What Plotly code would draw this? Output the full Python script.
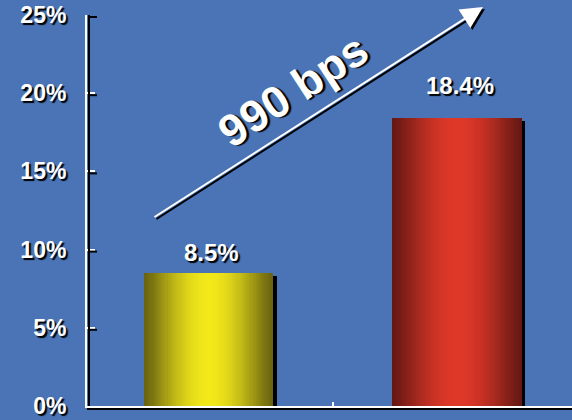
import math
import plotly.graph_objects as go

# Data
categories = ["Before", "After"]
values = [8.5, 18.4]
value_labels = ["8.5%", "18.4%"]
y_tick_vals = [0, 5, 10, 15, 20, 25]
y_tick_text = ["0%", "5%", "10%", "15%", "20%", "25%"]
change_label = "990 bps"

# Styling
BG = "#4a74b5"
FONT = "Liberation Sans, Arial, sans-serif"
SHADOW = "2px 2px 1px #000000"
bar_dark = [(104, 98, 16), (102, 24, 20)]
bar_bright = [(242, 232, 26), (222, 56, 40)]
label_lift = [5, 17]
BAR_W = 0.52
N_STRIPS = 60


def shade(dark, bright, t):
    f = math.sin(math.pi * t) ** 1.2
    r, g, b = (round(d + (br - d) * f) for d, br in zip(dark, bright))
    return f"rgb({r},{g},{b})"


fig = go.Figure()

# drop shadow behind each bar (shifted right and down)
fig.add_bar(
    x=categories, y=values, base=-0.2, width=BAR_W, offset=-BAR_W / 2 + 0.014,
    marker=dict(color="black", line=dict(width=0)), hoverinfo="skip",
    showlegend=False,
)

# bar bodies: vertical strips layered left to right for a cylinder-like gradient
for i in range(N_STRIPS):
    t0 = i / N_STRIPS
    tc = (i + 0.5) / N_STRIPS
    fig.add_bar(
        x=categories, y=values,
        width=BAR_W * (1 - t0), offset=-BAR_W / 2 + BAR_W * t0,
        marker=dict(color=[shade(d, b, tc) for d, b in zip(bar_dark, bar_bright)],
                    line=dict(width=0)),
        hoverinfo="skip", showlegend=False,
    )

# value labels above the bars
for cat, val, lab, lift in zip(categories, values, value_labels, label_lift):
    fig.add_annotation(
        x=cat, y=val, text=lab, showarrow=False, yanchor="bottom", yshift=lift,
        xshift=3, font=dict(family=FONT, size=24, color="white", weight="bold",
                            shadow=SHADOW),
    )

# rising arrow with its shadow, then the change label
for color, dx, dy in [("black", 2, -2), ("white", 0, 0)]:
    fig.add_annotation(
        xref="paper", yref="paper", x=0.8165, y=1.0205, ax=-330, ay=211,
        xshift=dx, yshift=dy, text="", showarrow=True, arrowhead=2,
        arrowsize=2.2, arrowwidth=2, arrowcolor=color,
    )
fig.add_annotation(
    xref="paper", yref="paper", x=0.4247, y=0.808, xanchor="center",
    yanchor="middle", text=change_label, showarrow=False, textangle=-33,
    font=dict(family=FONT, size=45, color="white", weight="bold", shadow=SHADOW),
)

# axis shadows
shapes = [
    dict(type="line", xref="paper", yref="paper", x0=0, x1=1,
         ysizemode="pixel", yanchor=0, y0=-3, y1=-3,
         line=dict(color="black", width=2)),
    dict(type="line", xref="paper", yref="y", xsizemode="pixel", xanchor=0,
         x0=2, x1=2, y0=0, y1=25, line=dict(color="black", width=2)),
]
for tv in y_tick_vals[1:]:
    shapes.append(dict(type="line", xref="paper", yref="y", xsizemode="pixel",
                       xanchor=0, x0=2, x1=10, ysizemode="pixel", yanchor=tv,
                       y0=-2, y1=-2, line=dict(color="black", width=2)))

fig.update_layout(
    width=572, height=420,
    margin=dict(l=87, r=0, t=15, b=14),
    paper_bgcolor=BG, plot_bgcolor=BG,
    barmode="overlay", bargap=0,
    shapes=shapes,
    showlegend=False,
    xaxis=dict(
        type="category", range=[-0.489, 1.463], showgrid=False, zeroline=False,
        showline=True, linecolor="white", linewidth=2,
        ticks="inside", tickson="boundaries", ticklen=4, tickwidth=2,
        tickcolor="white", showticklabels=False,
    ),
    yaxis=dict(
        range=[0, 25], tickvals=y_tick_vals, ticktext=y_tick_text,
        showgrid=False, zeroline=False, showline=True, linecolor="white",
        linewidth=2, ticks="inside", ticklen=8, tickwidth=2, tickcolor="white",
        ticklabelstandoff=14,
        tickfont=dict(family=FONT, size=23, color="white", weight="bold",
                      shadow=SHADOW),
    ),
)

fig.write_html("out.html")
